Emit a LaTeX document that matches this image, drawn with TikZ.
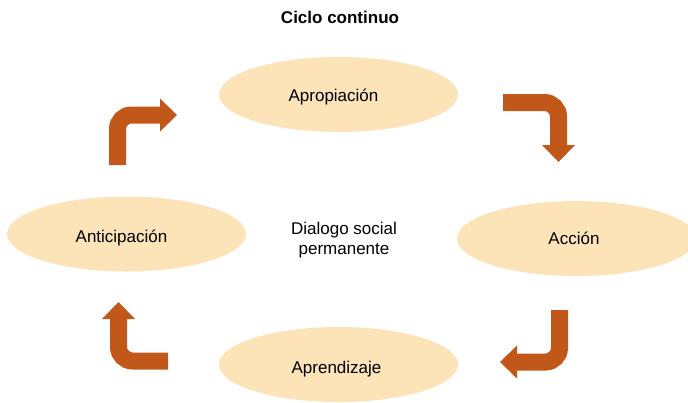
\documentclass[tikz,border=0pt]{standalone}
\usepackage{fontspec}
\setmainfont{Liberation Sans}
\usetikzlibrary{shapes.geometric,arrows.meta}
\definecolor{peach}{RGB}{252,227,184}
\definecolor{rust}{RGB}{193,88,26}
\tikzset{
  phase/.style={ellipse, fill=peach, minimum width=239pt, minimum height=75pt,
    inner sep=0pt},
  txt/.style={font=\fontsize{17}{20}\selectfont, inner sep=0pt},
  turn/.style={draw=rust, line width=17pt, rounded corners=14pt,
    -{Triangle[width=33pt, length=17pt, line width=0pt, fill=rust]}}
}
\begin{document}
\begin{tikzpicture}[x=1pt, y=-1pt]
  \clip (0,0) rectangle (688,402);
  \fill[white] (0,0) rectangle (688,402);
  % title
  \node[txt, font=\fontsize{17}{20}\selectfont\bfseries] (title) at (340,17) {Ciclo continuo};

  % the four phases
  \node[phase] (aprop) at (338.5,94.5) {};
  \node[phase] (accion) at (576.5,238.5) {};
  \node[phase] (aprend) at (338.5,364.5) {};
  \node[phase] (antic) at (126.5,234) {};
  \node[txt] (aprop-t) at ([shift={(-5,3)}]aprop.center) {Apropiaci\'on};
  \node[txt] (accion-t) at ([shift={(-2.5,0)}]accion.center) {Acci\'on};
  \node[txt] (aprend-t) at ([shift={(-2,4.5)}]aprend.center) {Aprendizaje};
  \node[txt] (antic-t) at ([shift={(-5,4)}]antic.center) {Anticipaci\'on};

  % centre text
  \node[txt, align=center] (dialogo) at (344,240)
    {Dialogo social\\permanente};

  % ends of the turning arrows
  \coordinate (a1s) at (117.5,165);
  \coordinate (a1t) at (177,115);
  \coordinate (a2s) at (503,102.5);
  \coordinate (a2t) at (558.5,162);
  \coordinate (a3s) at (559.5,310);
  \coordinate (a3t) at (500,362);
  \coordinate (a4s) at (168,361);
  \coordinate (a4t) at (118.5,302);

  \draw[turn] (a1s) |- (a1t);
  \draw[turn] (a2s) -| (a2t);
  \draw[turn] (a3s) |- (a3t);
  \draw[turn] (a4s) -| (a4t);
\end{tikzpicture}
\end{document}
